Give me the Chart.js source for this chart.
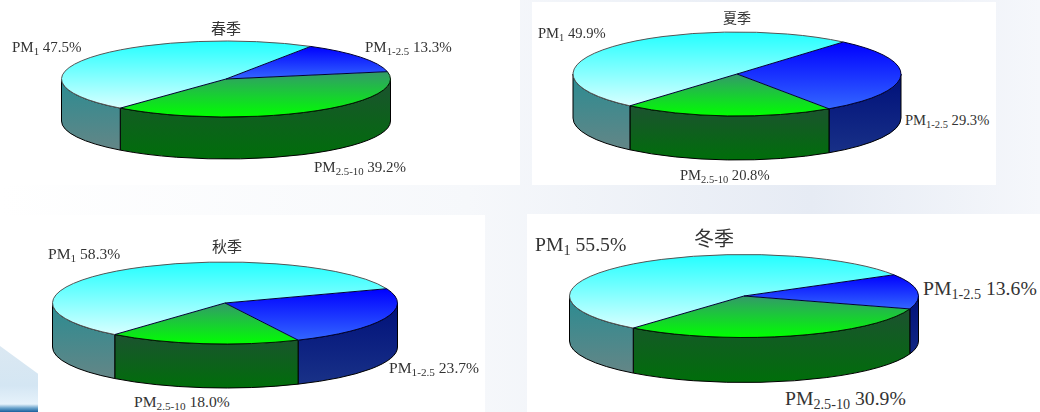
<!DOCTYPE html>
<html>
<head>
<meta charset="utf-8">
<title>PM seasons</title>
<script src="https://cdn.jsdelivr.net/npm/chart.js@4"></script>
<style>
html, body { margin: 0; padding: 0; background: #fff; }
#page {
    position: relative; width: 1040px; height: 412px; overflow: hidden;
    background: linear-gradient(90deg, #ffffff 0%, #f6f8fb 45%, #e6ebf4 78%, #f5f7fb 100%);
}
.panel { position: absolute; background: #fff; }
#sweep {
    position: absolute; left: 0; top: 346px; width: 38px; height: 66px;
    background: linear-gradient(180deg, #dbe8f2 0%, #d4e6f3 60%, #e6f2fb 88%, #6aa3cc 94%, #1a5f9c 100%);
    clip-path: polygon(0 0, 100% 42%, 100% 100%, 0 100%);
}
canvas { position: absolute; }
.label {
    position: absolute; white-space: nowrap; color: #333;
    font-family: "Liberation Serif", serif; line-height: 1;
}
.label sub { font-size: 0.72em; line-height: 0; vertical-align: -0.28em; }
.title {
    position: absolute; white-space: nowrap; color: #333; line-height: 1;
    font-family: "Noto Sans CJK SC", sans-serif; transform: translateX(-50%);
}
</style>
</head>
<body>
<div id="page">
    <div class="panel" style="left:0;top:0;width:520px;height:185px"></div>
    <div class="panel" style="left:532px;top:2px;width:464px;height:183px"></div>
    <div class="panel" style="left:0;top:215px;width:485px;height:197px"></div>
    <div class="panel" style="left:527px;top:214px;width:513px;height:198px"></div>
    <div id="sweep"></div>
</div>
<script>
const seasons = ['春季', '夏季', '秋季', '冬季'];
const sliceNames = [['PM', '1-2.5'], ['PM', '2.5-10'], ['PM', '1']];

// percent of each size fraction: PM1-2.5, PM2.5-10, PM1
const springValues = [13.3, 39.2, 47.5];
const summerValues = [29.3, 20.8, 49.9];
const autumnValues = [23.7, 18.0, 58.3];
const winterValues = [13.6, 30.9, 55.5];
const seasonValues = [springValues, summerValues, autumnValues, winterValues];

// where the first slice starts, in degrees clockwise from the top
const rotations = [31, 40.4, 69.6, 59.2];

// ellipse geometry of each pie
const pies = [
    { cx: 225.5, cy: 79, rx: 164.5, ry: 38, depth: 42 },
    { cx: 737, cy: 74, rx: 164, ry: 42, depth: 44 },
    { cx: 224.5, cy: 303, rx: 172.5, ry: 41, depth: 44 },
    { cx: 744, cy: 296, rx: 174.5, ry: 41.5, depth: 45 }
];

// label anchors in the same order as sliceNames, then the season title
const labelSpots = [
    [{ x: 365, y: 40, size: 15 }, { x: 314, y: 160, size: 15 }, { x: 12, y: 40, size: 15 }],
    [{ x: 905, y: 113, size: 14.6 }, { x: 680, y: 168, size: 14.6 }, { x: 538, y: 26, size: 14.6 }],
    [{ x: 389, y: 360, size: 15.6 }, { x: 134, y: 394, size: 15.6 }, { x: 48, y: 246, size: 15.6 }],
    [{ x: 923, y: 279, size: 19.7 }, { x: 785, y: 389, size: 19.7 }, { x: 535, y: 235, size: 19.7 }]
];
const titleSpots = [
    { x: 226, y: 20, size: 15 },
    { x: 737, y: 10, size: 14 },
    { x: 227, y: 238, size: 15 },
    { x: 714, y: 228, size: 20 }
];

// top face and wall colours per slice, dark end first
const faceColors = [['#0000ff', '#3366ff'], ['#33996a', '#00ff00'], ['#22ffff', '#d8ffff']];
const wallColors = [['#00107a', '#1a3388'], ['#1c5230', '#006e0a'], ['#2a8c92', '#6b8585']];
const rimColors = ['#000033', '#001a00', '#555555'];

const TAU = Math.PI * 2;

// Range of sin(angle) over a slice, center point included
function sinRange(start, end) {
    let lo = Math.min(0, Math.sin(start), Math.sin(end));
    let hi = Math.max(0, Math.sin(start), Math.sin(end));
    for (let k = -4; k <= 4; k++) {
        const a = Math.PI / 2 + k * Math.PI;
        if (a > start && a < end) {
            lo = Math.min(lo, Math.sin(a));
            hi = Math.max(hi, Math.sin(a));
        }
    }
    return [lo, hi];
}

function sliceAngles(values, rotation, index) {
    let start = (rotation - 90) * Math.PI / 180;
    for (let i = 0; i < index; i++) start += values[i] / 100 * TAU;
    return [start, start + values[index] / 100 * TAU];
}

// Gradient runs over the slice's own height, in the unsquashed space of the arc
function faceGradient(context, pieIndex) {
    const chart = context.chart;
    const pie = pies[pieIndex];
    const cy = chart.height / 2;
    const [start, end] = sliceAngles(seasonValues[pieIndex], rotations[pieIndex], context.dataIndex);
    const [lo, hi] = sinRange(start, end);
    const g = chart.ctx.createLinearGradient(0, cy + lo * pie.rx, 0, cy + hi * pie.rx);
    g.addColorStop(0, faceColors[context.dataIndex][0]);
    g.addColorStop(1, faceColors[context.dataIndex][1]);
    return g;
}

// Side wall of the pie, only the part of each slice that faces the viewer
function drawWalls(chart, pie) {
    const ctx = chart.ctx;
    const arcs = chart.getDatasetMeta(0).data;
    const cx = arcs[0].x, cy = arcs[0].y;
    arcs.forEach((arc, i) => {
        for (const shift of [0, -TAU, TAU]) {
            const a0 = Math.max(arc.startAngle + shift, 0);
            const a1 = Math.min(arc.endAngle + shift, Math.PI);
            if (a1 <= a0) continue;
            const yTop = cy + Math.min(Math.sin(a0), Math.sin(a1)) * pie.ry;
            const g = ctx.createLinearGradient(0, yTop, 0, cy + pie.ry + pie.depth);
            g.addColorStop(0, wallColors[i][0]);
            g.addColorStop(1, wallColors[i][1]);
            ctx.beginPath();
            ctx.ellipse(cx, cy, pie.rx, pie.ry, 0, a0, a1);
            ctx.ellipse(cx, cy + pie.depth, pie.rx, pie.ry, 0, a1, a0, true);
            ctx.closePath();
            ctx.fillStyle = g;
            ctx.fill();
            ctx.strokeStyle = '#000000';
            ctx.lineWidth = 1;
            ctx.stroke();
        }
    });
}

// Slice outlines on the top face, stroked after the squash is undone
function drawOutlines(chart, pie) {
    const ctx = chart.ctx;
    const arcs = chart.getDatasetMeta(0).data;
    const cx = arcs[0].x, cy = arcs[0].y;
    ctx.lineWidth = 1;
    arcs.forEach((arc, i) => {
        ctx.beginPath();
        ctx.ellipse(cx, cy, pie.rx, pie.ry, 0, arc.startAngle, arc.endAngle);
        ctx.strokeStyle = rimColors[i];
        ctx.stroke();
    });
    ctx.strokeStyle = '#000033';
    arcs.forEach(arc => {
        ctx.beginPath();
        ctx.moveTo(cx + Math.cos(arc.startAngle) * pie.rx, cy + Math.sin(arc.startAngle) * pie.ry);
        ctx.lineTo(cx, cy);
        ctx.stroke();
    });
}

const pie3d = {
    id: 'pie3d',
    beforeDatasetsDraw(chart, args, opts) {
        const pie = pies[opts.pieIndex];
        const ctx = chart.ctx;
        const arc = chart.getDatasetMeta(0).data[0];
        drawWalls(chart, pie);
        ctx.save();
        ctx.translate(arc.x, arc.y);
        ctx.scale(1, pie.ry / pie.rx);
        ctx.translate(-arc.x, -arc.y);
    },
    afterDatasetsDraw(chart, args, opts) {
        chart.ctx.restore();
        drawOutlines(chart, pies[opts.pieIndex]);
    }
};

const page = document.getElementById('page');

function addLabel(name, value, spot) {
    const el = document.createElement('div');
    el.className = 'label';
    el.style.left = spot.x + 'px';
    el.style.top = spot.y + 'px';
    el.style.fontSize = spot.size + 'px';
    el.innerHTML = `${name[0]}<sub>${name[1]}</sub> ${value.toFixed(1)}%`;
    page.appendChild(el);
}

seasons.forEach((season, s) => {
    const pie = pies[s];
    const halfW = Math.ceil(pie.rx + 4);
    const halfH = Math.ceil(pie.ry + pie.depth + 4);

    const canvas = document.createElement('canvas');
    canvas.width = halfW * 2;
    canvas.height = halfH * 2;
    canvas.style.left = (pie.cx - halfW) + 'px';
    canvas.style.top = (pie.cy - halfH) + 'px';
    page.appendChild(canvas);

    new Chart(canvas, {
        type: 'pie',
        plugins: [pie3d],
        data: {
            labels: sliceNames.map(n => n.join('')),
            datasets: [{
                data: seasonValues[s],
                borderWidth: 0,
                clip: false,
                backgroundColor: context => faceGradient(context, s)
            }]
        },
        options: {
            responsive: false,
            animation: false,
            radius: pie.rx,
            rotation: rotations[s],
            layout: { padding: 0 },
            plugins: {
                legend: { display: false },
                tooltip: { enabled: false },
                pie3d: { pieIndex: s }
            }
        }
    });

    sliceNames.forEach((name, i) => addLabel(name, seasonValues[s][i], labelSpots[s][i]));

    const title = document.createElement('div');
    title.className = 'title';
    title.textContent = season;
    title.style.left = titleSpots[s].x + 'px';
    title.style.top = titleSpots[s].y + 'px';
    title.style.fontSize = titleSpots[s].size + 'px';
    page.appendChild(title);
});
</script>
</body>
</html>
